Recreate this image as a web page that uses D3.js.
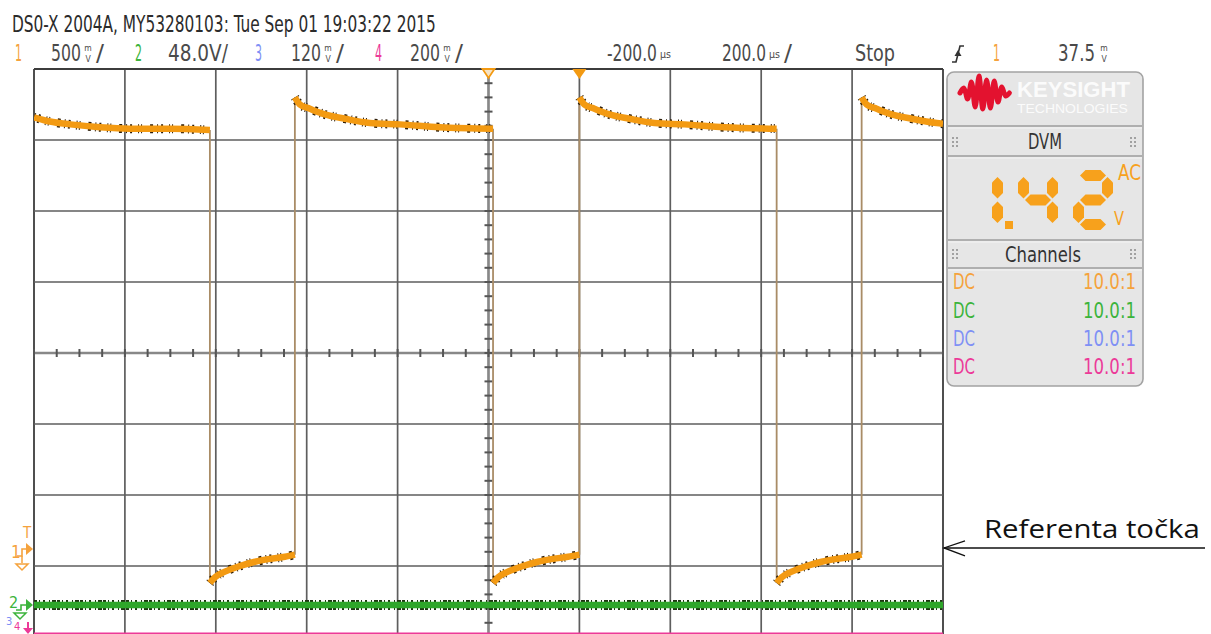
<!DOCTYPE html>
<html><head><meta charset="utf-8">
<script src="https://cdn.jsdelivr.net/npm/d3@7"></script>
<style>
html,body{margin:0;padding:0;background:#fff;}
svg{display:block;}
text{font-family:"Liberation Sans Narrow","DejaVu Sans Condensed","Roboto Condensed","Arial Narrow",sans-serif;}
</style></head><body>
<svg id="scope" width="1211" height="634"></svg>
<script>
// ---------- acquisition header ----------
const headerTitle = "DS0-X 2004A, MY53280103: Tue Sep 01 19:03:22 2015";
const channelNames = ["1", "2", "3", "4"];
const channelScales = ["500", "48.0", "120", "200"];
const channelUnits = ["mV", "V", "mV", "mV"];
const timeDelay = "-200.0";
const timeScaleText = "200.0";
const runState = "Stop";
const triggerSource = "1";
const triggerLevel = "37.5";

// ---------- DVM and channel panel ----------
const dvmValue = 1.42;
const dvmMode = "AC";
const dvmUnit = "V";
const couplings = ["DC", "DC", "DC", "DC"];
const probeRatios = ["10.0:1", "10.0:1", "10.0:1", "10.0:1"];

// ---------- timebase / vertical settings ----------
const timePerDiv = 200;      // µs
const timeCenter = -200;     // µs (horizontal delay)
const ch1VoltsPerDiv = 0.5, ch1Center = 1.38;
const ch2VoltsPerDiv = 48,  ch2Center = 170.4;
const ch4VoltsPerDiv = 0.2, ch4Center = 0.79;

// ---------- channel 1 samples (µs from trigger, volts) ----------
const ch1Time = [
  -1200, -1165, -1120, -1055, -990, -900, -813,
  -813, -802, -780, -747, -714, -681, -648, -626,
  -626, -615, -593, -560, -516, -461, -395, -307, -190,
  -190, -179, -157, -124, -91, -58, -25, 0,
  0, 11, 33, 66, 110, 165, 231, 319, 434,
  434, 445, 467, 500, 533, 566, 599, 621,
  621, 632, 654, 687, 731, 786, 800
];
const ch1Volts = [
  3.04, 3.01, 2.99, 2.97, 2.96, 2.96, 2.95,
  -0.24, -0.20, -0.16, -0.12, -0.09, -0.07, -0.055, -0.04,
  3.18, 3.13, 3.10, 3.06, 3.03, 3.00, 2.99, 2.97, 2.96,
  -0.24, -0.20, -0.16, -0.12, -0.09, -0.07, -0.055, -0.04,
  3.18, 3.13, 3.10, 3.06, 3.03, 3.00, 2.99, 2.97, 2.96,
  -0.24, -0.20, -0.16, -0.12, -0.09, -0.07, -0.055, -0.04,
  3.18, 3.13, 3.10, 3.06, 3.03, 3.00, 2.995
];
// ---------- channel 2 and 4 samples ----------
const ch2Time = [-1200, -700, -200, 300, 800];
const ch2Volts = [0, 0, 0, 0, 0];
const ch4Time = [-1200, 800];
const ch4Volts = [0, 0];

// ---------- colours ----------
const chColors = ["#f5a23c", "#3cb43c", "#7f90f5", "#ec3a98"];
const traceOrange = "#f39a12";
const traceGreen = "#2ea62a";
const edgeColor = "#a98c66";

// ---------- layout ----------
const W = 1211, H = 634;
const gridLeft = 34, gridRight = 943, gridTop = 69, divPx = 71;
const hDivs = 10, vDivs = 8;
const gridBottom = gridTop + vDivs * divPx;

const svg = d3.select("#scope");
svg.append("rect").attr("width", W).attr("height", H).attr("fill", "#fff");

const x = d3.scaleLinear()
  .domain([timeCenter - timePerDiv * hDivs / 2, timeCenter + timePerDiv * hDivs / 2])
  .range([gridLeft, gridRight]);
const vScale = (perDiv, center) => d3.scaleLinear()
  .domain([center - perDiv * vDivs / 2, center + perDiv * vDivs / 2])
  .range([gridBottom, gridTop]);
const y1 = vScale(ch1VoltsPerDiv, ch1Center);
const y2 = vScale(ch2VoltsPerDiv, ch2Center);
const y4 = vScale(ch4VoltsPerDiv, ch4Center);
const gx = d3.scaleLinear().domain([0, hDivs]).range([gridLeft, gridRight]);
const gy = d3.scaleLinear().domain([0, vDivs]).range([gridTop, gridBottom]);

// text helper: an optional target width is reached by squeezing the glyphs horizontally
function txt(g, px, py, s, o = {}) {
  const t = g.append("text").attr("x", px).attr("y", py).text(s)
    .attr("font-size", o.size || 23).attr("fill", o.fill || "#333");
  if (o.anchor) t.attr("text-anchor", o.anchor);
  if (o.weight) t.attr("font-weight", o.weight);
  if (o.family) t.style("font-family", o.family);
  if (o.len) {
    const natural = t.node().getComputedTextLength();
    if (natural > 0) {
      const k = o.len / natural;
      t.attr("transform", `translate(${px},0) scale(${k},1) translate(${-px},0)`);
    }
  }
  return t;
}
// two-letter unit stacked vertically (mV)
function stackedUnit(g, px, py, u, fill) {
  txt(g, px, py - 10, u[0], { size: 8.5, fill, anchor: "middle" });
  txt(g, px, py + 0.5, u[1], { size: 8.5, fill, anchor: "middle" });
}

// ---------- header ----------
const hdr = svg.append("g");
txt(hdr, 12, 32, headerTitle, { fill: "#2b2b2b", len: 424 });
const chLabelX = [15, 135, 255, 375];
const chValX = [51, 168, 291, 410];
const valGray = "#4a4a4a";
channelNames.forEach((n, i) => {
  txt(hdr, chLabelX[i], 61, n, { fill: chColors[i], len: 7 });
  if (channelUnits[i] === "V") {
    txt(hdr, chValX[i], 61, channelScales[i] + "V/", { fill: valGray, len: 60 });
  } else {
    txt(hdr, chValX[i], 61, channelScales[i], { fill: valGray, len: 30 });
    stackedUnit(hdr, chValX[i] + 37, 61, channelUnits[i], valGray);
    txt(hdr, chValX[i] + 45, 61, "/", { fill: valGray, len: 8 });
  }
});
txt(hdr, 607, 61, timeDelay, { fill: valGray, len: 50 });
txt(hdr, 660, 58, "µs", { size: 10, fill: valGray, len: 11 });
txt(hdr, 722, 61, timeScaleText, { fill: valGray, len: 44 });
txt(hdr, 769, 58, "µs", { size: 10, fill: valGray, len: 11 });
txt(hdr, 784, 61, "/", { fill: valGray, len: 8 });
txt(hdr, 855, 61, runState, { fill: valGray, len: 40 });
// rising-edge trigger symbol
hdr.append("path").attr("d", "M952,62 H956 L960,46 H964")
  .attr("fill", "none").attr("stroke", "#333").attr("stroke-width", 1.6);
hdr.append("path").attr("d", "M954.5,56 L958,50 L961.5,56 Z").attr("fill", "#333");
txt(hdr, 993, 61, triggerSource, { fill: chColors[0], len: 7 });
txt(hdr, 1058, 61, triggerLevel, { fill: valGray, len: 37 });
stackedUnit(hdr, 1104, 61, "mV", valGray);

// ---------- graticule ----------
const grid = svg.append("g");
d3.range(0, hDivs + 1).forEach(i => {
  grid.append("line").attr("x1", gx(i)).attr("x2", gx(i))
    .attr("y1", gridTop).attr("y2", gridBottom)
    .attr("stroke", (i === 0 || i === hDivs) ? "#3c3c3c" : "#5e5e5e")
    .attr("stroke-width", (i === 0 || i === hDivs) ? 1.8 : 1.7);
});
d3.range(0, vDivs + 1).forEach(j => {
  grid.append("line").attr("x1", gridLeft).attr("x2", gridRight)
    .attr("y1", gy(j)).attr("y2", gy(j))
    .attr("stroke", j === 0 ? "#3c3c3c" : "#5e5e5e")
    .attr("stroke-width", j === 0 ? 1.8 : 1.7);
});
// centre axes with minor ticks
const cx = gx(hDivs / 2), cy = gy(vDivs / 2);
grid.append("line").attr("x1", cx).attr("x2", cx).attr("y1", gridTop).attr("y2", gridBottom)
  .attr("stroke", "#888").attr("stroke-width", 2.4);
grid.append("line").attr("x1", gridLeft).attr("x2", gridRight).attr("y1", cy).attr("y2", cy)
  .attr("stroke", "#888").attr("stroke-width", 2.4);
d3.range(0, hDivs * 4 + 1).forEach(k => {
  const px = gx(k / 4);
  grid.append("line").attr("x1", px).attr("x2", px).attr("y1", cy - 4).attr("y2", cy + 4)
    .attr("stroke", "#555").attr("stroke-width", 2);
});
d3.range(0, vDivs * 5 + 1).forEach(k => {
  const py = gy(k / 5);
  grid.append("line").attr("x1", cx - 4).attr("x2", cx + 4).attr("y1", py).attr("y2", py)
    .attr("stroke", "#555").attr("stroke-width", 2);
});

// ---------- traces ----------
svg.append("clipPath").attr("id", "screen").append("rect")
  .attr("x", gridLeft).attr("y", gridTop).attr("width", gridRight - gridLeft).attr("height", gridBottom - gridTop);
const traces = svg.append("g").attr("clip-path", "url(#screen)");

// channel 4 (pink) sits at the bottom of the screen
traces.append("path")
  .attr("d", d3.line().x(d => x(d[0])).y(d => y4(d[1]))(ch4Time.map((t, i) => [t, ch4Volts[i]])))
  .attr("fill", "none").attr("stroke", chColors[3]).attr("stroke-width", 2);

// channel 2 (green)
const ch2Line = d3.line().x(d => x(d[0])).y(d => y2(d[1]));
const ch2Pts = ch2Time.map((t, i) => [t, ch2Volts[i]]);
traces.append("path").attr("d", ch2Line(ch2Pts)).attr("fill", "none")
  .attr("stroke", "#1d3311").attr("stroke-width", 10).attr("stroke-dasharray", "3 2 1 3 2 4 1 2 4 1");
traces.append("path").attr("d", ch2Line(ch2Pts)).attr("fill", "none")
  .attr("stroke", traceGreen).attr("stroke-width", 6.5);

// channel 1 (orange): split into level runs and vertical edges
const ch1Pts = ch1Time.map((t, i) => [t, ch1Volts[i]]);
const runs = [], edges = [];
let cur = [ch1Pts[0]];
for (let i = 1; i < ch1Pts.length; i++) {
  const p = ch1Pts[i], q = ch1Pts[i - 1];
  if (p[0] === q[0]) { runs.push(cur); edges.push([q, p]); cur = [p]; }
  else cur.push(p);
}
runs.push(cur);
edges.forEach(e => {
  traces.append("line").attr("x1", x(e[0][0])).attr("x2", x(e[1][0]))
    .attr("y1", y1(e[0][1])).attr("y2", y1(e[1][1]))
    .attr("stroke", edgeColor).attr("stroke-width", 1.8);
});
const ch1Line = d3.line().x(d => x(d[0])).y(d => y1(d[1])).curve(d3.curveMonotoneX);
runs.forEach(r => {
  traces.append("path").attr("d", ch1Line(r)).attr("fill", "none")
    .attr("stroke", "#2e1e0a").attr("stroke-width", 9).attr("stroke-dasharray", "1 3 2 6 1 2 1 8 3 4");
  traces.append("path").attr("d", ch1Line(r)).attr("fill", "none")
    .attr("stroke", traceOrange).attr("stroke-width", 6.5);
});

// ---------- horizontal markers on top edge ----------
const mk = svg.append("g");
mk.append("path")
  .attr("d", `M${x(timeCenter) - 6},${gridTop} L${x(timeCenter) + 6},${gridTop} L${x(timeCenter)},${gridTop + 9} Z`)
  .attr("fill", "#f6e3c6").attr("stroke", traceOrange).attr("stroke-width", 1.8);
mk.append("path")
  .attr("d", `M${x(0) - 7},${gridTop} L${x(0) + 7},${gridTop} L${x(0)},${gridTop + 10} Z`)
  .attr("fill", traceOrange);

// ---------- left ground / trigger markers ----------
const gnd = (g, px, py, col) => {
  g.append("path").attr("d", `M${px - 6},${py} H${px + 6} L${px},${py + 6} Z`)
    .attr("fill", "none").attr("stroke", col).attr("stroke-width", 1.5);
};
const m1 = y1(0);
txt(mk, 23, 538, "T", { size: 15, fill: chColors[0] });
txt(mk, 11, m1 + 9, "1", { size: 17, fill: chColors[0] });
mk.append("path").attr("d", `M17,${m1 + 7} H22 V${m1} H27`).attr("fill", "none")
  .attr("stroke", chColors[0]).attr("stroke-width", 1.6);
mk.append("path").attr("d", `M26,${m1 - 6} L33,${m1} L26,${m1 + 6} Z`).attr("fill", chColors[0]);
mk.append("line").attr("x1", 22).attr("x2", 22).attr("y1", m1 + 7).attr("y2", m1 + 14)
  .attr("stroke", chColors[0]).attr("stroke-width", 1.5);
gnd(mk, 22, m1 + 15, chColors[0]);

const m2 = y2(0);
txt(mk, 9, m2 + 3, "2", { size: 16, fill: chColors[1] });
mk.append("path").attr("d", `M16,${m2 + 5} H21 V${m2} H27`).attr("fill", "none")
  .attr("stroke", chColors[1]).attr("stroke-width", 1.6);
mk.append("path").attr("d", `M26,${m2 - 6} L33,${m2} L26,${m2 + 6} Z`).attr("fill", chColors[1]);
txt(mk, 6, m2 + 20, "3", { size: 11, fill: chColors[2] });
txt(mk, 14, m2 + 25, "4", { size: 11, fill: chColors[3] });
gnd(mk, 20, m2 + 8, chColors[1]);
mk.append("line").attr("x1", 28).attr("x2", 28).attr("y1", H - 12).attr("y2", H - 4)
  .attr("stroke", chColors[3]).attr("stroke-width", 2);
mk.append("path").attr("d", `M23,${H - 6} L33,${H - 6} L28,${H} Z`).attr("fill", chColors[3]);

// ---------- side panel ----------
const pnl = svg.append("g");
const pL = 947, pR = 1143, pT = 72, pB = 386;
pnl.append("rect").attr("x", pL).attr("y", pT).attr("width", pR - pL).attr("height", pB - pT)
  .attr("rx", 7).attr("fill", "#e6e6e6").attr("stroke", "#a3a3a3").attr("stroke-width", 1.6);
[126, 156, 240, 268].forEach(py => {
  pnl.append("line").attr("x1", pL + 1).attr("x2", pR - 1).attr("y1", py).attr("y2", py)
    .attr("stroke", "#9d9d9d").attr("stroke-width", 1.6);
  pnl.append("line").attr("x1", pL + 1).attr("x2", pR - 1).attr("y1", py + 2).attr("y2", py + 2)
    .attr("stroke", "#f4f4f4").attr("stroke-width", 1);
});
// logo waveform
const logoY = [0, -5, 6, -11, 14, -17, 16, -13, 15, -12, 9, -6, 3, 0];
const logoPath = d3.line().curve(d3.curveCatmullRom)(logoY.map((v, i) => [960 + i * 3.8, 93 + v]));
pnl.append("path").attr("d", logoPath).attr("fill", "none").attr("stroke", "#e3122f")
  .attr("stroke-width", 5).attr("stroke-linejoin", "round").attr("stroke-linecap", "round");
txt(pnl, 1017, 97, "KEYSIGHT", { size: 22, fill: "#fbfbfb", len: 113, weight: "bold", family: "'Liberation Sans',sans-serif" });
txt(pnl, 1017, 113, "TECHNOLOGIES", { size: 13, fill: "#fbfbfb", len: 111, family: "'Liberation Sans',sans-serif" });

// grip dots on the header bands
function grip(g, px, py) {
  for (let c = 0; c < 2; c++) for (let r = 0; r < 3; r++)
    g.append("circle").attr("cx", px + c * 4).attr("cy", py - 4 + r * 4).attr("r", 1).attr("fill", "#8a8a8a");
}
grip(pnl, 953, 142); grip(pnl, 1131, 142);
grip(pnl, 953, 254); grip(pnl, 1131, 254);
txt(pnl, 1045, 149, "DVM", { size: 21, fill: "#333", anchor: "middle", len: 34 });
txt(pnl, 1043, 262, "Channels", { size: 21, fill: "#333", anchor: "middle", len: 76 });

// seven-segment DVM readout
const segColor = "#f7a11c";
const SEG = { "0": "abcdef", "1": "bc", "2": "abged", "3": "abgcd", "4": "fgbc", "5": "afgcd",
  "6": "afgedc", "7": "abc", "8": "abcdefg", "9": "abcdfg", "-": "g" };
function drawDigit(g, x0, y0, ch) {
  const w = 40, h = 60, t = 11, gp = 1.5;
  const hs = (xl, xr, yc) => `M${xl},${yc} L${xl + t / 2},${yc - t / 2} L${xr - t / 2},${yc - t / 2} L${xr},${yc} L${xr - t / 2},${yc + t / 2} L${xl + t / 2},${yc + t / 2} Z`;
  const vs = (xc, yt, yb) => `M${xc},${yt} L${xc + t / 2},${yt + t / 2} L${xc + t / 2},${yb - t / 2} L${xc},${yb} L${xc - t / 2},${yb - t / 2} L${xc - t / 2},${yt + t / 2} Z`;
  const xl = x0 + t / 2, xr = x0 + w - t / 2, yt = y0 + t / 2, ym = y0 + h / 2, yb = y0 + h - t / 2;
  const paths = {
    a: hs(xl + gp, xr - gp, yt), g: hs(xl + gp, xr - gp, ym), d: hs(xl + gp, xr - gp, yb),
    f: vs(xl, yt + gp, ym - gp), b: vs(xr, yt + gp, ym - gp),
    e: vs(xl, ym + gp, yb - gp), c: vs(xr, ym + gp, yb - gp)
  };
  for (const s of SEG[ch]) g.append("path").attr("d", paths[s]).attr("fill", segColor);
}
let cellX = 963;
const dvmText = dvmValue.toFixed(2);
for (const ch of dvmText) {
  if (ch === ".") {
    pnl.append("rect").attr("x", cellX - 13).attr("y", 221).attr("width", 8).attr("height", 8).attr("fill", segColor);
  } else {
    drawDigit(pnl, cellX, 170, ch);
    cellX += 55;
  }
}
txt(pnl, 1118, 180, dvmMode, { size: 21, fill: segColor, len: 23 });
txt(pnl, 1114, 225, dvmUnit, { size: 20, fill: segColor, len: 10 });

// channel rows
const rowY = [289, 318, 346, 374];
couplings.forEach((c, i) => {
  txt(pnl, 953, rowY[i], c, { size: 22, fill: chColors[i], len: 22 });
  txt(pnl, 1136, rowY[i], probeRatios[i], { size: 22, fill: chColors[i], anchor: "end", len: 53 });
});

// ---------- reference-point annotation ----------
const ann = svg.append("g");
const refY = y1(0) - 1;
ann.append("line").attr("x1", gridRight + 1).attr("x2", 1205).attr("y1", refY).attr("y2", refY)
  .attr("stroke", "#111").attr("stroke-width", 1.6);
ann.append("path").attr("d", `M${gridRight + 22},${refY - 7} L${gridRight + 1},${refY} L${gridRight + 22},${refY + 8}`)
  .attr("fill", "none").attr("stroke", "#111").attr("stroke-width", 1.3);
txt(ann, 984, 538, "Referenta točka", { size: 25, fill: "#111", len: 216, family: "'Open Sans','Liberation Sans',sans-serif" });
</script>
</body></html>
